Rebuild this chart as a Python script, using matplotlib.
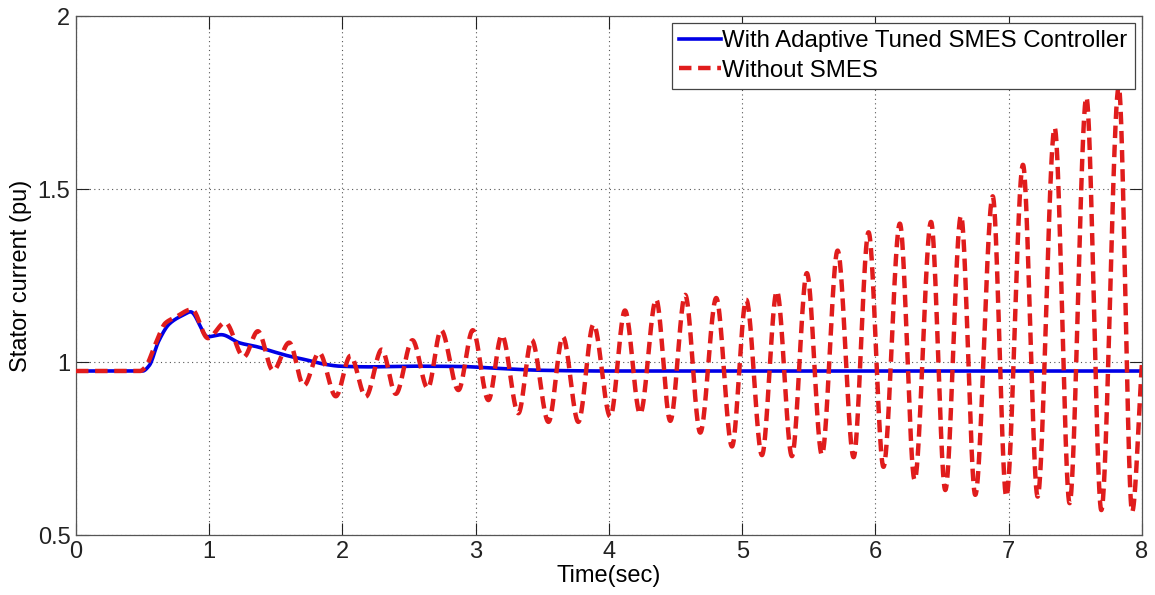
import numpy as np
import matplotlib
matplotlib.use("Agg")
import matplotlib.pyplot as plt

# Stator current with the adaptive tuned SMES controller (time s, current pu)
t_smes = [0.0, 0.50, 0.55, 0.62, 0.70, 0.80, 0.86, 0.99, 1.09, 1.23, 1.36,
          1.48, 1.60, 1.73, 1.86, 1.98, 2.20, 2.50, 2.90, 3.10, 3.50, 4.00, 8.00]
i_smes = [0.974, 0.974, 0.990, 1.060, 1.110, 1.135, 1.145, 1.073, 1.079, 1.055, 1.044,
          1.030, 1.017, 1.006, 0.994, 0.988, 0.986, 0.988, 0.987, 0.983, 0.976, 0.974, 0.974]

# Stator current without SMES: start-up, then successive peaks and troughs
t_nosmes = [0.0, 0.48, 0.52, 0.60, 0.67, 0.75, 0.87, 0.99, 1.12, 1.26, 1.365,
            1.48, 1.60, 1.71, 1.825, 1.95, 2.06, 2.175, 2.295, 2.40, 2.525,
            2.64, 2.74, 2.87, 2.978, 3.095, 3.196, 3.32, 3.42, 3.546, 3.654,
            3.77, 3.884, 4.01, 4.12, 4.234, 4.354, 4.46, 4.572, 4.685, 4.805,
            4.923, 5.03, 5.148, 5.26, 5.373, 5.485, 5.598, 5.716, 5.836, 5.948,
            6.06, 6.183, 6.294, 6.417, 6.524, 6.642, 6.749, 6.88, 6.982, 7.107,
            7.217, 7.345, 7.457, 7.583, 7.695, 7.826, 7.926, 8.0]
i_nosmes = [0.974, 0.974, 0.985, 1.055, 1.112, 1.130, 1.152, 1.069, 1.114, 1.015, 1.089,
            0.975, 1.056, 0.932, 1.027, 0.901, 1.018, 0.900, 1.036, 0.908, 1.063,
            0.924, 1.092, 0.919, 1.092, 0.890, 1.078, 0.852, 1.064, 0.827, 1.073,
            0.827, 1.109, 0.842, 1.149, 0.850, 1.181, 0.830, 1.194, 0.796, 1.185,
            0.756, 1.180, 0.731, 1.205, 0.728, 1.257, 0.732, 1.322, 0.725, 1.375,
            0.697, 1.400, 0.659, 1.405, 0.630, 1.423, 0.616, 1.479, 0.611, 1.570,
            0.611, 1.677, 0.592, 1.765, 0.572, 1.795, 0.567, 0.997]

x_ticks = [0, 1, 2, 3, 4, 5, 6, 7, 8]
y_ticks = [0.5, 1.0, 1.5, 2.0]
y_tick_labels = ["0.5", "1", "1.5", "2"]


def pchip(x, y, xi):
    """Shape-preserving piecewise cubic Hermite curve through (x, y)."""
    x = np.asarray(x, float)
    y = np.asarray(y, float)
    h = np.diff(x)
    d = np.diff(y) / h
    m = np.zeros_like(y)
    for k in range(1, len(x) - 1):
        if d[k - 1] * d[k] > 0:
            w1 = 2 * h[k] + h[k - 1]
            w2 = h[k] + 2 * h[k - 1]
            m[k] = (w1 + w2) / (w1 / d[k - 1] + w2 / d[k])
    m[0] = d[0]
    m[-1] = d[-1]
    idx = np.clip(np.searchsorted(x, xi) - 1, 0, len(x) - 2)
    hk = h[idx]
    s = (xi - x[idx]) / hk
    h00 = 2 * s**3 - 3 * s**2 + 1
    h10 = s**3 - 2 * s**2 + s
    h01 = -2 * s**3 + 3 * s**2
    h11 = s**3 - s**2
    return h00 * y[idx] + h10 * hk * m[idx] + h01 * y[idx + 1] + h11 * hk * m[idx + 1]


tt = np.linspace(0, 8, 4000)

plt.rcParams["font.family"] = ["Liberation Sans", "DejaVu Sans"]

fig = plt.figure(figsize=(11.55, 5.95), dpi=100)
ax = fig.add_axes([0.0658, 0.1008, 0.9229, 0.8723])

ax.plot(tt, pchip(t_smes, i_smes, tt), color="#0000e6", lw=2.6,
        label="With Adaptive Tuned SMES Controller", zorder=3)
ax.plot(tt, pchip(t_nosmes, i_nosmes, tt), color="#e01c1c", lw=3.2,
        dashes=(2.8, 1.5), label="Without SMES", zorder=4)

ax.set_xlim(0, 8)
ax.set_ylim(0.5, 2)
ax.set_xticks(x_ticks)
ax.set_xticklabels([str(v) for v in x_ticks])
ax.set_yticks(y_ticks)
ax.set_yticklabels(y_tick_labels)

ax.grid(True, linestyle=(0, (1, 3)), color="#555555", linewidth=0.8)
ax.tick_params(direction="in", length=9, width=0.8, top=True, right=True,
               labelsize=17, colors="#222222", pad=4)
for sp in ax.spines.values():
    sp.set_color("#555555")
    sp.set_linewidth(0.9)

ax.set_xlabel("Time(sec)", fontsize=17, labelpad=2)
ax.set_ylabel("Stator current (pu)", fontsize=17, labelpad=4)

leg = ax.legend(loc="upper right", fontsize=17.3, handlelength=1.75,
                handletextpad=0.05, borderpad=0.3, labelspacing=0.3,
                borderaxespad=0.3, fancybox=False, framealpha=1)
leg.get_frame().set_edgecolor("#444444")
leg.get_frame().set_linewidth(0.9)

fig.savefig("out.png", dpi=100)
